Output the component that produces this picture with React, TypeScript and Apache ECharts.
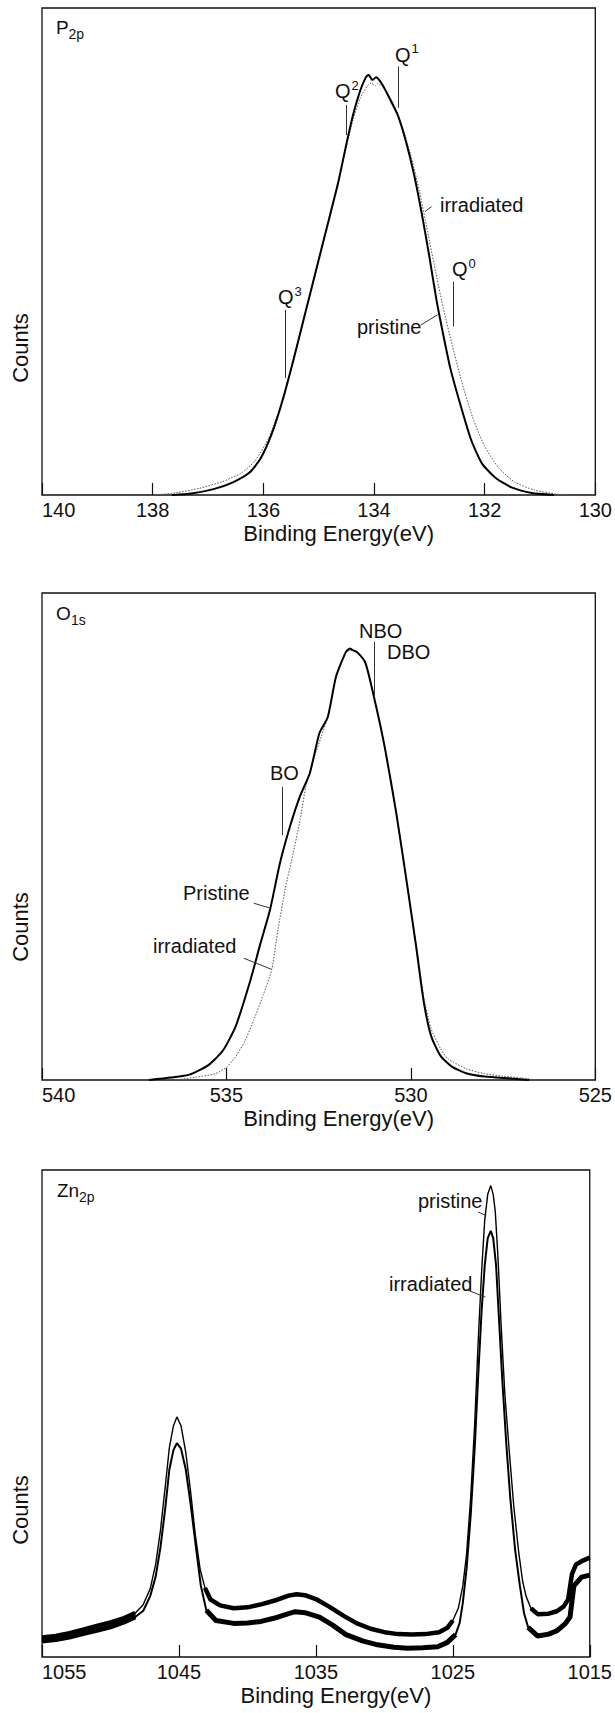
import React, { useEffect, useRef } from "react";
import * as echarts from "echarts";

const FONT = "'Liberation Sans', Arial, Helvetica, sans-serif";
const INK = "#111";

// ---------- Panel 1 : P2p ----------
const p2pTicks = [130, 132, 134, 136, 138, 140];
const p2pPristine: [number, number][] = [
  [137.65, 0], [137.3, 0.3], [136.9, 1.2], [136.55, 2.6], [136.25, 4.6], [136.05, 7.5],
  [135.85, 12.5], [135.65, 19.5], [135.45, 28], [135.25, 37], [135.05, 46], [134.85, 55],
  [134.65, 64], [134.5, 72], [134.38, 78], [134.25, 83], [134.15, 85.7], [134.1, 86.3],
  [134.03, 85.2], [133.96, 85.8], [133.85, 84.3], [133.72, 81.5], [133.57, 78], [133.42, 72.5],
  [133.28, 66], [133.14, 58], [133.0, 49], [132.87, 40], [132.75, 33], [132.62, 26],
  [132.45, 19], [132.25, 11.5], [132.05, 6.5], [131.8, 3.5], [131.5, 1.5], [131.15, 0.4], [130.75, 0],
];
const p2pIrradiated: [number, number][] = [
  [137.95, 0], [137.55, 0.5], [137.15, 1.4], [136.75, 2.7], [136.4, 4.5], [136.15, 7],
  [135.9, 11.8], [135.7, 18], [135.5, 26], [135.3, 35], [135.1, 44], [134.9, 53],
  [134.7, 62], [134.52, 70.5], [134.38, 77], [134.25, 81.5], [134.12, 84], [134.05, 84.6],
  [133.98, 84], [133.93, 84.5], [133.8, 83.3], [133.66, 80.5], [133.5, 76], [133.34, 70],
  [133.18, 62.5], [133.03, 54], [132.88, 45.5], [132.73, 37.5], [132.58, 30.5], [132.42, 23.5],
  [132.22, 16], [132.0, 10], [131.75, 5.6], [131.45, 2.6], [131.1, 1.0], [130.7, 0.2], [130.45, 0],
];
// marker lines: [energy, from, to]
const p2pMarkers: [number, number, number][] = [
  [133.565, 79.5, 88], [134.5, 73.9, 80.1], [135.6, 24, 38], [132.56, 34.6, 43.8],
];
// leader lines: [[E1, v1], [E2, v2]]
const p2pLeaders: [number, number][][] = [
  [[133.08, 58.2], [132.96, 59.2]],
  [[133.155, 34.9], [132.85, 37]],
];

// ---------- Panel 2 : O1s ----------
const o1sTicks = [525, 530, 535, 540];
const o1sPristine: [number, number][] = [
  [537.1, 0], [536.5, 0.5], [536.0, 1.1], [535.5, 3.0], [535.1, 6.0], [534.75, 11],
  [534.35, 20.5], [534.08, 28], [533.82, 34.9], [533.55, 44.5], [533.28, 52], [533.01, 58.2],
  [532.74, 63], [532.48, 71.2], [532.25, 74.6], [532.03, 82.8], [531.76, 87.9], [531.65, 88.6],
  [531.59, 88.3], [531.45, 87.8], [531.23, 85.6], [530.96, 77.3], [530.7, 68], [530.4, 55],
  [530.1, 40], [529.85, 27], [529.65, 16], [529.45, 9], [529.2, 5], [528.9, 2.8],
  [528.5, 1.4], [528.0, 0.7], [527.3, 0.3], [526.8, 0],
];
const o1sIrradiated: [number, number][] = [
  [536.4, 0], [535.8, 0.6], [535.3, 1.3], [535.0, 2.6], [534.75, 4.8], [534.5, 8],
  [534.26, 12.3], [534.0, 17.5], [533.77, 22.7], [533.6, 31], [533.4, 39.5], [533.19, 46.6],
  [533.0, 53.5], [532.85, 60.2], [532.65, 65.5], [532.43, 70.5], [532.25, 74.6], [532.03, 82.8],
  [531.76, 87.9], [531.59, 88.2], [531.45, 87.6], [531.23, 85.6], [530.96, 77.3], [530.7, 68],
  [530.4, 55], [530.1, 40], [529.85, 27.5], [529.65, 17], [529.45, 10.5], [529.2, 6.5],
  [529.0, 4.4], [528.5, 2.3], [528.0, 1.3], [527.5, 0.8], [527.0, 0.4], [526.6, 0],
];
const o1sMarkers: [number, number, number][] = [
  [530.98, 78.7, 90], [533.48, 50.3, 60.2],
];
const o1sLeaders: [number, number][][] = [
  [[534.26, 36.3], [533.82, 35.3]],
  [[534.53, 25], [533.77, 22.7]],
];

// ---------- Panel 3 : Zn2p ----------
const znTicks = [1015, 1025, 1035, 1045, 1055];
const znPristine: [number, number][] = [
  [1055.0, 4.0], [1054.0, 4.3], [1053.0, 4.9], [1052.0, 5.6], [1051.0, 6.4], [1050.0, 7.1],
  [1049.0, 8.0], [1048.2, 9.0], [1047.6, 10.8], [1047.1, 14], [1046.7, 19], [1046.35, 26],
  [1046.0, 35], [1045.7, 43], [1045.4, 47.5], [1045.15, 49.3], [1044.85, 47.5], [1044.5, 42],
  [1044.15, 34], [1043.8, 25], [1043.45, 18], [1043.1, 14.2], [1042.7, 11.8], [1042.0, 10.6],
  [1041.0, 10.0], [1040.0, 10.2], [1039.0, 10.8], [1038.0, 11.6], [1037.0, 12.6], [1036.4, 12.9],
  [1035.8, 12.7], [1035.0, 11.9], [1034.0, 10.3], [1033.0, 8.5], [1032.0, 6.9], [1031.0, 5.8],
  [1030.0, 5.1], [1029.0, 4.7], [1028.0, 4.6], [1027.0, 4.7], [1026.0, 5.1], [1025.4, 6.0],
  [1025.0, 7.5], [1024.6, 10], [1024.27, 14.6], [1024.0, 21], [1023.7, 32.5], [1023.4, 48],
  [1023.15, 64.7], [1022.9, 79], [1022.67, 89.7], [1022.45, 95], [1022.23, 96.8], [1022.05, 95],
  [1021.9, 91.5], [1021.7, 82], [1021.47, 68], [1021.2, 54], [1020.9, 43], [1020.55, 31],
  [1020.2, 21.8], [1019.9, 15.5], [1019.65, 12.5], [1019.3, 10], [1018.8, 8.8], [1018.0, 8.9],
  [1017.4, 9.4], [1016.9, 10.4], [1016.58, 11.8], [1016.3, 17], [1016.0, 19], [1015.5, 19.8],
  [1015.0, 20.4],
];
const znIrradiated: [number, number][] = [
  [1055.0, 3.3], [1054.0, 3.6], [1053.0, 4.1], [1052.0, 4.8], [1051.0, 5.5], [1050.0, 6.2],
  [1049.0, 7.2], [1048.2, 8.2], [1047.6, 9.5], [1047.1, 12.5], [1046.7, 16.5], [1046.35, 22.5],
  [1046.0, 30.5], [1045.7, 38.5], [1045.4, 42.5], [1045.15, 43.9], [1044.85, 42.8], [1044.5, 38.5],
  [1044.15, 31.5], [1043.8, 23.5], [1043.4, 14.6], [1043.0, 9.6], [1042.3, 7.5], [1041.0, 6.9],
  [1040.0, 7.0], [1039.0, 7.3], [1038.0, 8.0], [1037.0, 8.9], [1036.5, 9.3], [1035.8, 9.1],
  [1034.74, 8.2], [1033.8, 6.6], [1032.8, 4.6], [1031.6, 3.3], [1030.5, 2.5], [1029.3, 2.0],
  [1028.3, 1.8], [1027.2, 1.9], [1026.1, 2.1], [1025.4, 3.0], [1024.8, 4.6], [1024.5, 7],
  [1024.27, 11.1], [1024.0, 18], [1023.7, 28.9], [1023.4, 43], [1023.15, 57.5], [1022.9, 71],
  [1022.67, 80.4], [1022.45, 86], [1022.23, 87.5], [1022.05, 86], [1021.84, 80.4], [1021.6, 68],
  [1021.4, 57.5], [1021.1, 44], [1020.8, 32.5], [1020.45, 22], [1020.1, 14.6], [1019.8, 9],
  [1019.5, 6.1], [1018.8, 4.3], [1018.0, 4.7], [1017.4, 5.4], [1016.8, 6.8], [1016.44, 8.2],
  [1016.16, 14.6], [1015.6, 16.4], [1015.0, 16.8],
];
// energy ranges where the recorded spectra are visibly noisy (drawn as a thicker trace)
const znNoisyRanges: [number, number][] = [[1047.9, 1055], [1024.8, 1043.1], [1015, 1019.6]];
const znLeaders: [number, number][][] = [
  [[1023.16, 91.4], [1022.55, 90.6]],
  [[1023.98, 75.4], [1022.62, 73.9]],
];

// ---------- annotation texts (pixel layout) ----------
type Lbl = { text: string; x: number; y: number; size: number; rot?: number; center?: boolean };
const annotations: Lbl[] = [
  { text: "P", x: 56, y: 27, size: 19 },
  { text: "2p", x: 68.5, y: 34, size: 14 },
  { text: "Q", x: 395, y: 55, size: 20 }, { text: "1", x: 411.5, y: 48, size: 13 },
  { text: "Q", x: 335, y: 91, size: 20 }, { text: "2", x: 351.5, y: 85, size: 13 },
  { text: "Q", x: 278, y: 297, size: 20 }, { text: "3", x: 294.5, y: 291, size: 13 },
  { text: "Q", x: 452, y: 269, size: 20 }, { text: "0", x: 468.5, y: 263, size: 13 },
  { text: "irradiated", x: 440, y: 205, size: 20 },
  { text: "pristine", x: 357, y: 327, size: 20 },
  { text: "Counts", x: 20, y: 348, size: 22, rot: 90, center: true },

  { text: "O", x: 56, y: 613, size: 19 },
  { text: "1s", x: 71, y: 620, size: 14 },
  { text: "NBO", x: 359, y: 631, size: 20 },
  { text: "DBO", x: 387, y: 652, size: 20 },
  { text: "BO", x: 270, y: 773, size: 20 },
  { text: "Pristine", x: 183, y: 893, size: 20 },
  { text: "irradiated", x: 153, y: 946, size: 20 },
  { text: "Counts", x: 20, y: 927, size: 22, rot: 90, center: true },

  { text: "Zn", x: 57, y: 1190, size: 19 },
  { text: "2p", x: 79, y: 1197, size: 14 },
  { text: "pristine", x: 418, y: 1201, size: 20 },
  { text: "irradiated", x: 389, y: 1284, size: 20 },
  { text: "Counts", x: 20, y: 1510, size: 22, rot: 90, center: true },
];

const grids = [
  { left: 42, top: 8, width: 561, height: 487 },
  { left: 42, top: 593, width: 561, height: 487 },
  { left: 42, top: 1170, width: 561, height: 487 },
];

function xAxis(i: number, min: number, max: number, ticks: number[]) {
  return {
    type: "value",
    gridIndex: i,
    min,
    max,
    inverse: true,
    axisLine: { show: false },
    axisTick: { show: true, inside: true, length: 12, customValues: ticks, lineStyle: { color: INK, width: 1.2 } },
    axisLabel: {
      show: true,
      customValues: ticks,
      formatter: (v: number) => String(v),
      fontSize: 20,
      fontFamily: FONT,
      color: INK,
      margin: 5,
      alignMaxLabel: "left",
    },
    splitLine: { show: false },
    name: "Binding Energy(eV)",
    nameLocation: "middle",
    nameGap: 27,
    nameTextStyle: { fontSize: 22, fontFamily: FONT, color: INK, padding: [0, 0, 0, 40] },
  };
}

function yAxis(i: number) {
  return {
    type: "value",
    gridIndex: i,
    min: 0,
    max: 100,
    axisLine: { show: false },
    axisTick: { show: false },
    axisLabel: { show: false },
    splitLine: { show: false },
  };
}

function markLines(markers: [number, number, number][], leaders: [number, number][][]) {
  const data: any[] = [];
  markers.forEach(([e, a, b]) => data.push([{ coord: [e, a] }, { coord: [e, b] }]));
  leaders.forEach(([p, q]) => data.push([{ coord: p }, { coord: q }]));
  return {
    silent: true,
    symbol: ["none", "none"],
    label: { show: false },
    lineStyle: { color: "#333", width: 1, type: "solid" },
    emphasis: { disabled: true },
    data,
  };
}

function noisy(data: [number, number][]) {
  const out: any[] = [];
  let prevIn = false;
  data.forEach(([e, v]) => {
    const inside = znNoisyRanges.some(([a, b]) => e >= a && e <= b);
    if (inside) out.push([e, v]);
    else if (prevIn) out.push([e, null]);
    prevIn = inside;
  });
  return out;
}

const line = (i: number, data: any[], color: string, width: number, type: any = "solid", smooth: any = false, extra: any = {}) => ({
  type: "line",
  xAxisIndex: i,
  yAxisIndex: i,
  data,
  symbol: "none",
  showSymbol: false,
  smooth,
  connectNulls: false,
  silent: true,
  lineStyle: { color, width, type },
  emphasis: { disabled: true },
  ...extra,
});

const option: any = {
  animation: false,
  backgroundColor: "#ffffff",
  grid: grids.map((g) => ({ ...g, show: true, borderColor: INK, borderWidth: 1.3, backgroundColor: "transparent", containLabel: false })),
  xAxis: [xAxis(0, 130, 140, p2pTicks), xAxis(1, 525, 540, o1sTicks), xAxis(2, 1015, 1055, znTicks)],
  yAxis: [yAxis(0), yAxis(1), yAxis(2)],
  series: [
    line(0, p2pIrradiated, "#555", 1, [1.5, 1.5], 0.2),
    line(0, p2pPristine, "#000", 2, "solid", 0.2, { markLine: markLines(p2pMarkers, p2pLeaders) }),
    line(1, o1sIrradiated, "#555", 1, [1.5, 1.5], 0.2),
    line(1, o1sPristine, "#000", 2, "solid", 0.2, { markLine: markLines(o1sMarkers, o1sLeaders) }),
    line(2, znIrradiated, "#000", 2, "solid", false),
    line(2, znPristine, "#000", 1.4, "solid", false, { markLine: markLines([], znLeaders) }),
    line(2, noisy(znIrradiated), "#000", 5, "solid", false),
    line(2, noisy(znPristine), "#000", 4.5, "solid", false),
  ],
  graphic: annotations.map((a) => ({
    type: "text",
    x: a.x,
    y: a.y,
    rotation: a.rot ? (a.rot * Math.PI) / 180 : 0,
    silent: true,
    style: {
      text: a.text,
      font: `${a.size}px ${FONT}`,
      fill: INK,
      align: a.center ? "center" : "left",
      verticalAlign: "middle",
      textAlign: a.center ? "center" : "left",
      textVerticalAlign: "middle",
    },
  })),
};

export default function App() {
  const ref = useRef<HTMLDivElement>(null);
  useEffect(() => {
    document.body.style.margin = "0";
    const chart = echarts.init(ref.current as HTMLDivElement, null, { renderer: "svg", width: 615, height: 1713 });
    chart.setOption(option);
    return () => chart.dispose();
  }, []);
  return <div ref={ref} style={{ width: 615, height: 1713, background: "#fff" }} />;
}
